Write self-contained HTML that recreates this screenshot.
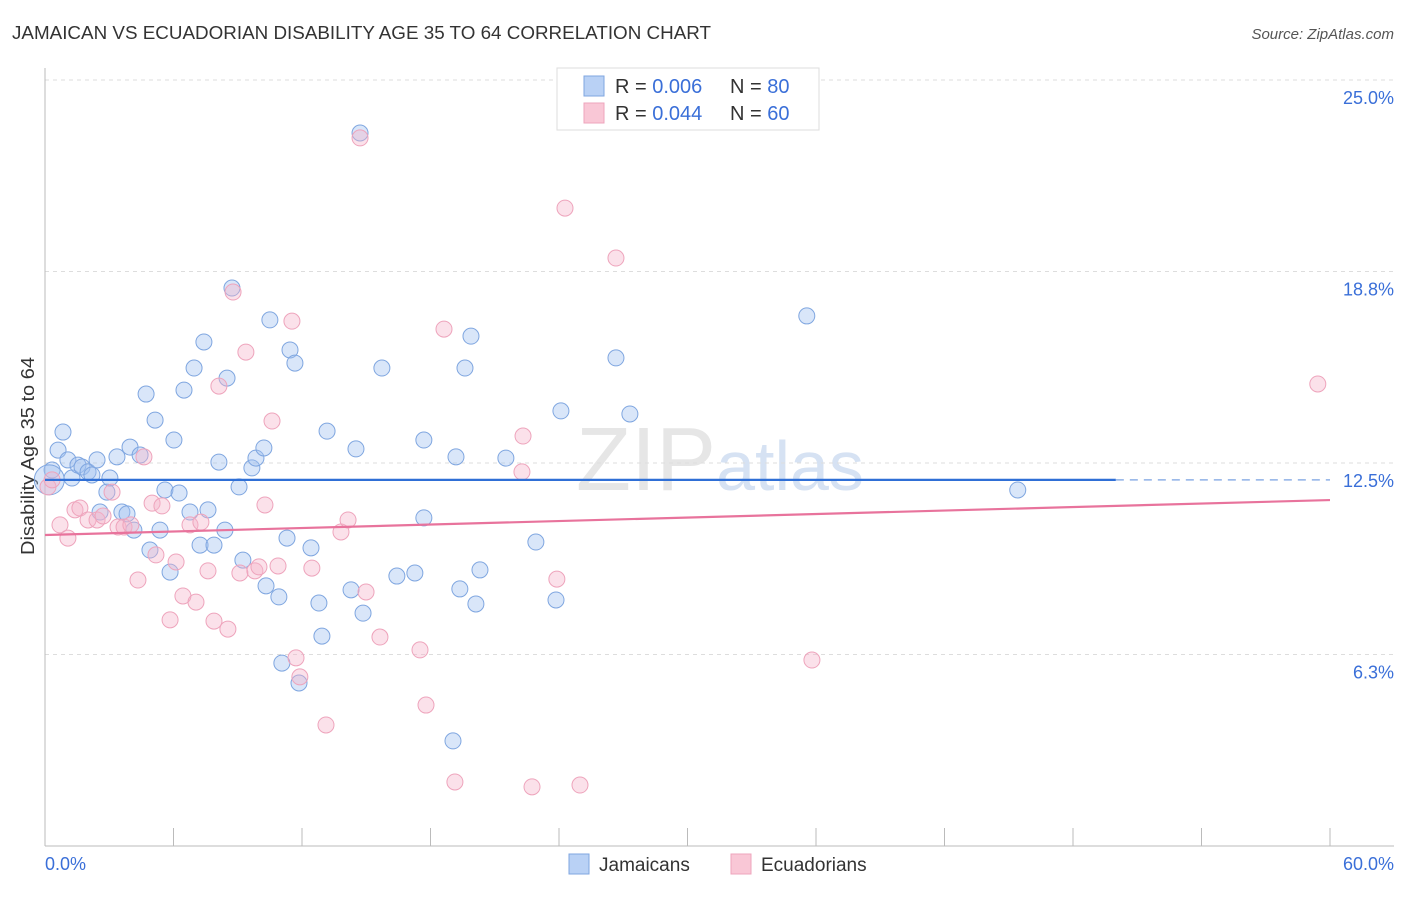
<!DOCTYPE html>
<html><head><meta charset="utf-8"><style>
body{margin:0;background:#fff;font-family:"Liberation Sans",sans-serif;}
svg text{font-family:"Liberation Sans",sans-serif;}
</style></head><body>
<svg id="chart" width="1406" height="892" xmlns="http://www.w3.org/2000/svg">
<text x="12" y="39" font-size="18" fill="#333" textLength="699" lengthAdjust="spacingAndGlyphs">JAMAICAN VS ECUADORIAN DISABILITY AGE 35 TO 64 CORRELATION CHART</text>
<text x="1394" y="39" font-size="15" fill="#555" text-anchor="end" font-style="italic">Source: ZipAtlas.com</text>
<text x="0" y="0" font-size="18" fill="#333" textLength="198" lengthAdjust="spacingAndGlyphs" transform="translate(34 555) rotate(-90)">Disability Age 35 to 64</text>
<text x="720" y="490" font-size="90" fill="#e6e6e6" text-anchor="middle" font-family="Liberation Serif">ZIP<tspan fill="#d6e2f3" font-family="Liberation Sans" font-size="70">atlas</tspan></text>
<g id="grid"></g><g id="pts"></g><g id="trend"></g>
<g>
<rect x="557" y="68" width="262" height="62" fill="#fff" stroke="#ddd"/>
<rect x="584" y="76" width="20" height="20" fill="#b9d1f5" stroke="#7fa6e0"/>
<rect x="584" y="103" width="20" height="20" fill="#f9c7d6" stroke="#eea4bc"/>
<text x="615" y="93" font-size="20" fill="#333">R = <tspan fill="#3a6fd8">0.006</tspan></text>
<text x="730" y="93" font-size="20" fill="#333">N = <tspan fill="#3a6fd8">80</tspan></text>
<text x="615" y="120" font-size="20" fill="#333">R = <tspan fill="#3a6fd8">0.044</tspan></text>
<text x="730" y="120" font-size="20" fill="#333">N = <tspan fill="#3a6fd8">60</tspan></text>
</g>
<g>
<rect x="569" y="854" width="20" height="20" fill="#b9d1f5" stroke="#7fa6e0"/>
<text x="599" y="871" font-size="19" fill="#333">Jamaicans</text>
<rect x="731" y="854" width="20" height="20" fill="#f9c7d6" stroke="#eea4bc"/>
<text x="761" y="871" font-size="19" fill="#333">Ecuadorians</text>
</g>
<text x="45" y="870" font-size="18" fill="#3a6fd8">0.0%</text>
<text x="1394" y="870" font-size="18" fill="#3a6fd8" text-anchor="end">60.0%</text>
</svg>
<script>
const yTicks=[25,18.75,12.5,6.25];
const yTickLabels=["25.0%","18.8%","12.5%","6.3%"];
const xTicks=[0,6,12,18,24,30,36,42,48,54,60];
const blueX=[0.33,0.61,0.84,1.07,1.26,1.54,1.73,2.01,2.19,2.43,2.57,2.89,3.03,3.36,3.59,3.83,3.97,4.15,4.44,4.72,4.90,5.14,5.37,5.60,5.84,6.02,6.26,6.49,6.77,6.96,7.24,7.42,7.61,7.89,8.12,8.40,8.50,8.73,9.06,9.24,9.66,9.85,10.22,10.32,10.50,10.92,11.06,11.30,11.44,11.67,11.86,12.42,12.79,12.93,13.17,14.29,14.52,14.71,14.85,15.73,16.43,17.27,17.69,17.69,19.05,19.19,19.37,19.61,19.89,20.12,20.31,21.52,22.92,23.86,24.09,26.66,27.31,35.57,45.42,0.2];
const blueY=[12.27,12.92,13.51,12.60,12.01,12.43,12.37,12.21,12.11,12.60,10.90,11.55,12.01,12.70,10.90,10.84,13.02,10.31,12.76,14.75,9.66,13.90,10.31,11.62,8.94,13.25,11.52,14.88,10.90,15.60,9.82,16.45,10.97,9.82,12.53,10.31,15.27,18.21,11.72,9.33,12.34,12.66,12.99,8.49,17.17,8.13,5.97,10.05,16.19,15.76,5.32,9.73,7.93,6.85,13.54,8.36,12.96,23.27,7.60,15.60,8.81,8.91,13.25,10.71,3.43,12.70,8.39,15.60,16.64,7.90,9.01,12.66,9.92,8.03,14.20,15.93,14.10,17.30,11.62,11.95];
const pinkX=[0.14,0.33,0.70,1.07,1.40,1.63,2.01,2.43,2.71,3.13,3.41,3.69,4.01,4.34,4.62,5.00,5.18,5.46,5.84,6.12,6.44,6.77,7.05,7.28,7.61,7.89,8.12,8.54,8.78,9.10,9.38,9.80,9.99,10.27,10.60,10.88,11.53,11.72,11.90,12.46,13.12,13.82,14.15,14.99,15.64,17.51,17.79,18.63,19.14,22.32,22.27,22.74,23.90,24.28,24.98,26.66,35.81,59.43,14.71];
const pinkY=[11.72,11.95,10.48,10.05,10.97,11.03,10.64,10.64,10.77,11.55,10.41,10.41,10.48,8.68,12.70,11.19,9.50,11.10,7.38,9.27,8.16,10.48,7.96,10.57,8.98,7.34,15.01,7.08,18.08,8.91,16.12,8.98,9.11,11.13,13.87,9.14,17.13,6.14,5.52,9.07,3.95,10.25,10.64,8.29,6.82,6.40,4.60,16.87,2.09,13.38,12.21,1.93,8.71,20.82,1.99,19.19,6.07,15.08,23.11];
const blueTrend=[11.95,11.95];
const pinkTrend=[10.15,11.29];
const X0=45,X1=1330,Y0=846,PXY=30.64;
const sx=v=>X0+v*(X1-X0)/60;
const sy=v=>Y0-v*PXY;
const NS="http://www.w3.org/2000/svg";
function mk(t,a,p){const e=document.createElementNS(NS,t);for(const k in a)e.setAttribute(k,a[k]);p.appendChild(e);return e;}
const grid=document.getElementById('grid');
yTicks.forEach((t,i)=>{
 const l=mk('line',{x1:X0,x2:1394,y1:sy(t),y2:sy(t),stroke:'#ddd','stroke-dasharray':'4,4'},grid);
 
 
 const tx=mk('text',{x:1394,y:sy(t)+24,'font-size':18,fill:'#3a6fd8','text-anchor':'end'},grid);
 tx.textContent=yTickLabels[i];
 
 
});
const ax=mk('line',{x1:X0,x2:X0,y1:68,y2:846,stroke:'#bbb'},grid);


const bx=mk('line',{x1:X0,x2:1394,y1:846,y2:846,stroke:'#bbb'},grid);


xTicks.forEach(t=>{
 const l=mk('line',{x1:sx(t),x2:sx(t),y1:828,y2:846,stroke:'#bbb'},grid);
 
 
});
const pts=document.getElementById('pts');
blueX.forEach((x,i)=>{
 const c=mk('circle',{cx:sx(x),cy:sy(blueY[i]),r:i==blueX.length-1?15:8,fill:'rgba(160,192,240,0.4)',stroke:'#7fa6e0','stroke-width':1},pts);
 
 
});
pinkX.forEach((x,i)=>{
 const c=mk('circle',{cx:sx(x),cy:sy(pinkY[i]),r:8,fill:'rgba(246,180,202,0.4)',stroke:'#eea4bc','stroke-width':1},pts);
 
 
});
const tr=document.getElementById('trend');
const b1=mk('line',{x1:sx(0),y1:sy(blueTrend[0]),x2:sx(50),y2:sy(blueTrend[0]+(blueTrend[1]-blueTrend[0])*50/60),stroke:'#2f6fd6','stroke-width':2.2},tr);


const b2=mk('line',{x1:sx(50),y1:sy(blueTrend[0]+(blueTrend[1]-blueTrend[0])*50/60),x2:sx(60),y2:sy(blueTrend[1]),stroke:'#8fb0e6','stroke-width':1.5,'stroke-dasharray':'8,6'},tr);


const p1=mk('line',{x1:sx(0),y1:sy(pinkTrend[0]),x2:sx(60),y2:sy(pinkTrend[1]),stroke:'#e8739c','stroke-width':2.2},tr);


</script>
</body></html>
